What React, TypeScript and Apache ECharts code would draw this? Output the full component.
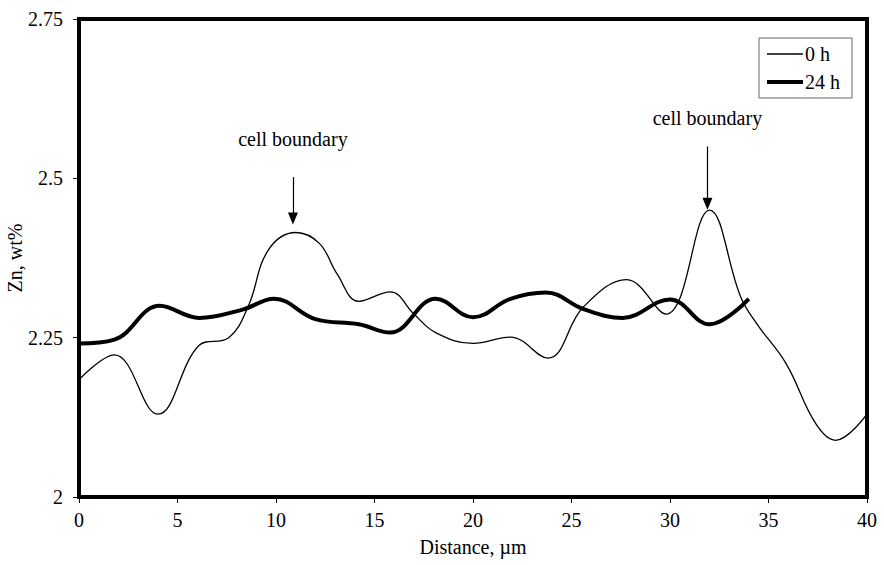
import React, { useEffect, useRef } from "react";
import * as echarts from "echarts";

const distance0h = [0, 1.8, 4, 6.1, 7.6, 8.6, 9.6, 11, 12.2, 13.1, 14.2, 15.8, 17, 18.1, 20, 21.9, 23.8, 25.6, 27.8, 29.8, 32, 33.6, 34.4, 35.9, 37.4, 38.4, 40];
const zn0h = [2.184, 2.223, 2.13, 2.238, 2.25, 2.3, 2.387, 2.415, 2.398, 2.35, 2.307, 2.322, 2.287, 2.258, 2.241, 2.251, 2.218, 2.298, 2.341, 2.287, 2.45, 2.313, 2.272, 2.209, 2.115, 2.089, 2.13];

const distance24h = [0, 1.8, 4.1, 6.1, 8.3, 9.9, 12, 14.2, 15.8, 18.1, 20, 21.9, 23.7, 25.6, 27.6, 30, 32, 34];
const zn24h = [2.241, 2.247, 2.3, 2.281, 2.294, 2.311, 2.279, 2.271, 2.258, 2.311, 2.282, 2.311, 2.321, 2.295, 2.281, 2.31, 2.271, 2.311];

const seriesNames = ["0 h", "24 h"];
const lineWidths = [1.3, 4];
const xTitle = "Distance, \u00b5m";
const yTitle = "Zn, wt%";
const annotationText = "cell boundary";
// annotation anchors in data coordinates: [x, textY, arrowStartY, arrowEndY]
const annotations = [
  [10.86, 2.562, 2.502, 2.437],
  [31.9, 2.594, 2.55, 2.46],
];

const FONT = "'Liberation Serif', 'Times New Roman', serif";

export default function App() {
  const ref = useRef<HTMLDivElement>(null);
  useEffect(() => {
    if (!ref.current) return;
    const chart = echarts.init(ref.current, null, { renderer: "svg" });
    const pairs = (xs: number[], ys: number[]) => xs.map((x, i) => [x, ys[i]]);
    chart.setOption({
      animation: false,
      backgroundColor: "#fff",
      textStyle: { fontFamily: FONT, color: "#000" },
      grid: {
        left: 79,
        right: 17,
        top: 19,
        bottom: 68,
        containLabel: false,
        outerBoundsMode: "none",
        show: true,
        borderColor: "#000",
        borderWidth: 4,
        backgroundColor: "transparent",
      },
      legend: {
        orient: "vertical",
        left: 759,
        top: 38,
        data: seriesNames.map((n, i) => ({
          name: n,
          lineStyle: { color: "#000", width: lineWidths[i], opacity: 1 },
        })),
        padding: [6, 12, 6, 6],
        itemGap: 8,
        itemWidth: 36,
        itemHeight: 14,
        borderColor: "#666",
        borderWidth: 1,
        backgroundColor: "#fff",
        itemStyle: { color: "rgba(0,0,0,0)", borderWidth: 0 },
        textStyle: { fontFamily: FONT, fontSize: 20, color: "#000", padding: [0, 0, 0, -3] },
      },
      xAxis: {
        type: "value",
        min: 0,
        max: 40,
        interval: 5,
        name: xTitle,
        nameLocation: "middle",
        nameGap: 40,
        nameMoveOverlap: false,
        nameTextStyle: { fontFamily: FONT, fontSize: 20, color: "#000" },
        axisLine: { show: true, onZero: false, lineStyle: { color: "#000", width: 4 } },
        axisTick: { show: true, inside: false, length: 6, lineStyle: { color: "#000", width: 1 } },
        axisLabel: { fontFamily: FONT, fontSize: 20, color: "#000", margin: 13 },
        splitLine: { show: false },
      },
      yAxis: {
        type: "value",
        min: 2,
        max: 2.75,
        interval: 0.25,
        name: yTitle,
        nameLocation: "middle",
        nameGap: 54,
        nameMoveOverlap: false,
        nameTextStyle: { fontFamily: FONT, fontSize: 20, color: "#000" },
        axisLine: { show: true, lineStyle: { color: "#000", width: 4 } },
        axisTick: { show: true, inside: false, length: 6, lineStyle: { color: "#000", width: 1 } },
        axisLabel: { fontFamily: FONT, fontSize: 20, color: "#000", margin: 16 },
        splitLine: { show: false },
      },
      series: [
        {
          name: seriesNames[0],
          type: "line",
          data: pairs(distance0h, zn0h),
          smooth: 0.4,
          symbol: "none",
          lineStyle: { color: "#000", width: lineWidths[0] },
          itemStyle: { color: "#000" },
          markPoint: {
            symbol: "circle",
            symbolSize: 0,
            silent: true,
            label: {
              show: true,
              position: "inside",
              formatter: annotationText,
              fontFamily: FONT,
              fontSize: 20,
              color: "#000",
            },
            data: annotations.map((a) => ({ coord: [a[0], a[1]] })),
          },
          markLine: {
            silent: true,
            symbol: ["none", "triangle"],
            symbolSize: [10, 12],
            label: { show: false },
            lineStyle: { color: "#000", width: 1.2, type: "solid" },
            data: annotations.map((a) => [
              { coord: [a[0], a[2]], symbol: "none" },
              { coord: [a[0], a[3]], symbol: "triangle", symbolRotate: 180 },
            ]),
          },
        },
        {
          name: seriesNames[1],
          type: "line",
          data: pairs(distance24h, zn24h),
          smooth: 0.4,
          symbol: "none",
          lineStyle: { color: "#000", width: lineWidths[1] },
          itemStyle: { color: "#000" },
        },
      ],
    });
    return () => chart.dispose();
  }, []);
  return <div ref={ref} style={{ width: 884, height: 565, position: "absolute", left: 0, top: 0 }} />;
}
